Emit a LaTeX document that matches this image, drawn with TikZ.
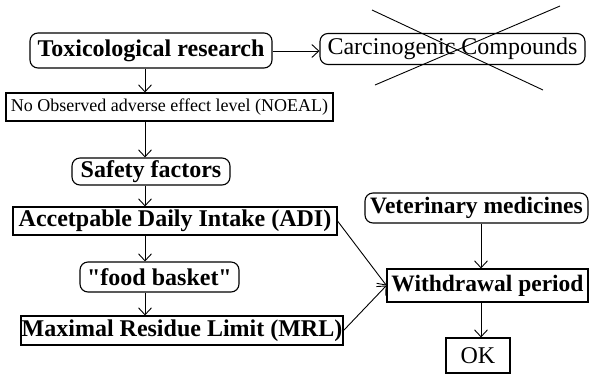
\documentclass[tikz,border=0pt]{standalone}
\usepackage{fontspec}
\setmainfont{Liberation Serif}
\usetikzlibrary{arrows.meta}
\begin{document}
\begin{tikzpicture}[x=1pt,y=-1pt,
  box/.style={draw, line width=1.1pt, inner sep=0pt, align=center, font=\fontsize{24}{26}\selectfont\bfseries},
  rbox/.style={box, rounded corners=8pt},
  arr/.style={line width=0.9pt, -{Straight Barb[length=7pt,width=13pt,line width=0.9pt]}},
  cross/.style={line width=0.9pt}]
\useasboundingbox (0,0) rectangle (590,376);
\node[rbox, minimum width=242pt, minimum height=35pt] (tox) at (151,50.5) {Toxicological research};
\node[rbox, minimum width=265pt, minimum height=31pt, font=\fontsize{24}{26}\selectfont] (carc) at (452.5,49) {Carcinogenic Compounds};
\node[box, minimum width=327pt, minimum height=28pt, font=\fontsize{18}{20}\selectfont] (noeal) at (169.5,107) {No Observed adverse effect level (NOEAL)};
\node[rbox, minimum width=158pt, minimum height=27pt] (safety) at (151,171.5) {Safety factors};
\node[box, minimum width=324pt, minimum height=28pt] (adi) at (175,221) {Accetpable Daily Intake (ADI)};
\node[rbox, minimum width=159pt, minimum height=30pt] (food) at (159.5,277) {\textquotedbl food basket\textquotedbl};
\node[box, minimum width=322pt, minimum height=29pt] (mrl) at (182,330.5) {Maximal Residue Limit (MRL)};
\node[rbox, minimum width=223pt, minimum height=30pt, font=\fontsize{23.5}{25}\selectfont\bfseries] (vet) at (476.5,208) {Veterinary medicines};
\node[box, minimum width=201pt, minimum height=33pt, font=\fontsize{23.5}{25}\selectfont\bfseries] (wd) at (487.5,285.5) {Withdrawal period};
\node[box, minimum width=64pt, minimum height=35pt, font=\fontsize{24}{26}\selectfont] (ok) at (478,355.5) {OK};
\coordinate (lc) at (145,0);
\coordinate (rc) at (481,0);
\coordinate (c1) at (372,10);
\coordinate (c2) at (543,90);
\coordinate (c3) at (560,6);
\coordinate (c4) at (375,85);
\draw[arr] (tox.east |- 0,51) -- (carc.west |- 0,51);
\draw[arr] (tox.south -| lc) -- (noeal.north -| lc);
\draw[arr] (noeal.south -| lc) -- (safety.north -| lc);
\draw[arr] (safety.south -| lc) -- (adi.north -| lc);
\draw[arr] (adi.south -| lc) -- (food.north -| lc);
\draw[arr] (food.south -| lc) -- (mrl.north -| lc);
\draw[arr] (vet.south -| rc) -- (wd.north -| rc);
\draw[arr] (wd.south -| rc) -- (ok.north -| rc);
\draw[arr] (adi.east) -- (wd.west);
\draw[arr] (mrl.east) -- (wd.west);
\draw[cross] (c1) -- (c2);
\draw[cross] (c3) -- (c4);
\end{tikzpicture}
\end{document}
